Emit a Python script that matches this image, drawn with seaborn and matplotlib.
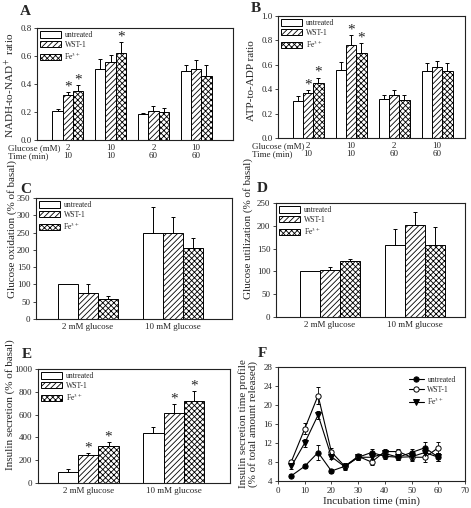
import numpy
import pandas
import matplotlib
matplotlib.use('Agg')
import matplotlib.pyplot as plt
import seaborn
from matplotlib.patches import Patch
from matplotlib.lines import Line2D
from matplotlib.container import BarContainer

seaborn.set_style('ticks')
plt.rcParams['font.family'] = ['Liberation Serif', 'DejaVu Serif']
plt.rcParams['mathtext.fontset'] = 'stix'
plt.rcParams['hatch.linewidth'] = 0.6
plt.rcParams['axes.edgecolor'] = '#222222'
plt.rcParams['axes.linewidth'] = 0.8

treatments = ['untreated', 'WST-1', 'Fe$^{3+}$']
hatches = ['', '//////', 'xxxxxx']

# A - NADH/NAD+
condA = ['2\n10', '10\n10', '2\n60', '10\n60']
nadh_untreated = [0.21, 0.51, 0.185, 0.49]
nadh_wst = [0.32, 0.56, 0.21, 0.51]
nadh_fe = [0.35, 0.62, 0.20, 0.46]
nadh_err_untreated = [0.01, 0.07, 0.008, 0.045]
nadh_err_wst = [0.025, 0.05, 0.03, 0.06]
nadh_err_fe = [0.045, 0.08, 0.03, 0.075]
nadh_star = [[0, 0, 0, 0], [1, 0, 0, 0], [1, 1, 0, 0]]

# B - ATP/ADP
atp_untreated = [0.30, 0.56, 0.32, 0.55]
atp_wst = [0.37, 0.76, 0.35, 0.58]
atp_fe = [0.45, 0.70, 0.31, 0.55]
atp_err_untreated = [0.045, 0.065, 0.035, 0.065]
atp_err_wst = [0.025, 0.085, 0.045, 0.055]
atp_err_fe = [0.045, 0.08, 0.04, 0.065]
atp_star = [[0, 0, 0, 0], [1, 1, 0, 0], [1, 1, 0, 0]]

condGlc = ['2 mM glucose', '10 mM glucose']

# C - glucose oxidation
oxi_untreated = [100, 250]
oxi_wst = [75, 250]
oxi_fe = [57, 205]
oxi_err_untreated = [0, 75]
oxi_err_wst = [25, 45]
oxi_err_fe = [10, 30]

# D - glucose utilization
uti_untreated = [100, 158]
uti_wst = [102, 202]
uti_fe = [123, 157]
uti_err_untreated = [0, 35]
uti_err_wst = [7, 28]
uti_err_fe = [5, 40]

# E - insulin secretion
ins_untreated = [100, 440]
ins_wst = [245, 615]
ins_fe = [325, 720]
ins_err_untreated = [20, 55]
ins_err_wst = [20, 80]
ins_err_fe = [35, 85]
ins_star = [[0, 0], [1, 1], [1, 1]]

# F - time profile
tempo = [5, 10, 15, 20, 25, 30, 35, 40, 45, 50, 55, 60]
perfil_untreated = [5.1, 7.1, 10.0, 6.1, 7.1, 9.0, 10.0, 9.2, 9.0, 10.0, 11.0, 9.0]
perfil_wst = [8.1, 15.0, 22.0, 10.1, 7.1, 9.2, 8.0, 10.2, 10.2, 9.0, 9.0, 11.0]
perfil_fe = [7.1, 12.0, 17.9, 9.1, 7.0, 9.0, 9.0, 9.8, 9.0, 9.1, 10.0, 9.0]
perfil_err_untreated = [0.3, 0.4, 1.5, 0.5, 0.6, 0.5, 0.8, 0.6, 0.6, 0.8, 1.2, 0.8]
perfil_err_wst = [0.3, 1.2, 1.7, 0.8, 0.6, 0.5, 0.6, 0.6, 0.5, 0.7, 1.0, 1.2]
perfil_err_fe = [0.5, 0.8, 0.8, 0.5, 0.6, 0.5, 0.8, 0.6, 0.5, 0.6, 0.8, 0.8]

W, H = 471, 508
fig = plt.figure(figsize=(W / 100, H / 100), dpi=100)


def eixo(left, right, top, bottom):
    return fig.add_axes([left / W, 1 - bottom / H, (right - left) / W, (bottom - top) / H])


def painelBarras(ax, categorias, medias, erros, estrelas, largura, xlim, ylim, yticks, ylabel, labelxy):
    linhas = []
    for t, m in zip(treatments, medias):
        for c, v in zip(categorias, m):
            linhas.append({'cond': c, 'trat': t, 'valor': v})
    df = pandas.DataFrame(linhas)
    seaborn.barplot(data=df, x='cond', y='valor', hue='trat', order=categorias, hue_order=treatments,
                    palette=['white'] * 3, saturation=1, edgecolor='black', linewidth=0.7,
                    width=largura, errorbar=None, legend=False, ax=ax)
    barras = [c for c in ax.containers if isinstance(c, BarContainer)]
    for i, container in enumerate(barras):
        for j, bar in enumerate(container):
            bar.set_hatch(hatches[i])
            x = bar.get_x() + bar.get_width() / 2
            top = bar.get_height()
            e = erros[i][j]
            if e > 0:
                ax.errorbar(x, top, yerr=[[0], [e]], color='black', lw=0.7, capsize=1.6, capthick=0.7)
            if estrelas is not None and estrelas[i][j]:
                ax.annotate('*', xy=(x, top + e), xytext=(0, -1), textcoords='offset points',
                            ha='center', va='bottom', fontsize=11)
    ax.set_xlim(*xlim)
    ax.set_ylim(*ylim)
    ax.set_yticks(yticks)
    ax.set_xlabel('')
    ax.set_ylabel(ylabel, fontsize=8)
    ax.yaxis.set_label_coords(*labelxy)
    ax.tick_params(axis='y', labelsize=6.5, length=2.5, width=0.6, pad=1.5)
    ax.tick_params(axis='x', labelsize=6.5, length=0, pad=3)
    handles = [Patch(facecolor='white', edgecolor='black', hatch=h, linewidth=0.7) for h in hatches]
    ax.legend(handles, treatments, loc='upper left', frameon=False, fontsize=5.5,
              handlelength=2.7, handleheight=0.95, labelspacing=0.2, handletextpad=0.5,
              borderaxespad=0.3, borderpad=0.1)


axA = eixo(37, 233, 28, 140)
painelBarras(axA, condA, [nadh_untreated, nadh_wst, nadh_fe],
             [nadh_err_untreated, nadh_err_wst, nadh_err_fe], nadh_star, 0.72,
             (-0.72, 3.86), (0, 0.8), numpy.arange(0, 0.81, 0.2), 'NADH-to-NAD$^+$ ratio',
             (-0.10, 0.49))
axA.set_yticklabels(['0.0', '0.2', '0.4', '0.6', '0.8'])
for lbl in axA.get_xticklabels():
    lbl.set_linespacing(1.05)
axA.text(-0.148, -0.035, 'Glucose (mM)\nTime (min)', transform=axA.transAxes, ha='left', va='top',
         fontsize=6.5, linespacing=1.05)

axB = eixo(278, 465, 16, 138)
painelBarras(axB, condA, [atp_untreated, atp_wst, atp_fe],
             [atp_err_untreated, atp_err_wst, atp_err_fe], atp_star, 0.72,
             (-0.70, 3.65), (0, 1.0), numpy.arange(0, 1.01, 0.2), 'ATP-to-ADP ratio',
             (-0.12, 0.47))
axB.set_yticklabels(['0.0', '0.2', '0.4', '0.6', '0.8', '1.0'])
for lbl in axB.get_xticklabels():
    lbl.set_linespacing(1.05)
axB.text(-0.139, -0.035, 'Glucose (mM)\nTime (min)', transform=axB.transAxes, ha='left', va='top',
         fontsize=6.5, linespacing=1.05)

axC = eixo(36, 232, 198, 319)
painelBarras(axC, condGlc, [oxi_untreated, oxi_wst, oxi_fe],
             [oxi_err_untreated, oxi_err_wst, oxi_err_fe], None, 0.71,
             (-0.61, 1.69), (0, 350), numpy.arange(0, 351, 50), 'Glucose oxidation (% of basal)',
             (-0.097, 0.74))

axD = eixo(276, 465, 203, 317)
painelBarras(axD, condGlc, [uti_untreated, uti_wst, uti_fe],
             [uti_err_untreated, uti_err_wst, uti_err_fe], None, 0.71,
             (-0.635, 1.59), (0, 250), numpy.arange(0, 251, 50), 'Glucose utilization (% of basal)',
             (-0.122, 0.78))

axE = eixo(38, 230, 369, 483)
painelBarras(axE, condGlc, [ins_untreated, ins_wst, ins_fe],
             [ins_err_untreated, ins_err_wst, ins_err_fe], ins_star, 0.71,
             (-0.59, 1.66), (0, 1000), numpy.arange(0, 1001, 200), 'Insulin secretion (% of basal)',
             (-0.12, 0.69))

# F
axF = eixo(278, 465, 367, 481)
series = [(perfil_untreated, perfil_err_untreated, 'o', 'black'),
          (perfil_wst, perfil_err_wst, 'o', 'white'),
          (perfil_fe, perfil_err_fe, 'v', 'black')]
handlesF = []
for (vals, errs, mk, fc), nome in zip(series, treatments):
    axF.errorbar(tempo, vals, yerr=errs, color='black', lw=0.8, marker=mk, markersize=3.8,
                 markerfacecolor=fc, markeredgecolor='black', markeredgewidth=0.7,
                 capsize=1.6, elinewidth=0.6, capthick=0.6)
    handlesF.append(Line2D([], [], color='black', lw=0.8, marker=mk, markersize=3.8,
                           markerfacecolor=fc, markeredgecolor='black', markeredgewidth=0.7))
axF.set_xlim(0, 70)
axF.set_ylim(4, 28)
axF.set_xticks(numpy.arange(0, 71, 10))
axF.set_yticks(numpy.arange(4, 29, 4))
axF.tick_params(labelsize=6.5, length=2.5, width=0.6, pad=1.5)
axF.set_xlabel('Incubation time (min)', fontsize=8, labelpad=1)
axF.set_ylabel('Insulin secretion time profile\n(% of total amount released)', fontsize=8,
               linespacing=1.0)
axF.yaxis.set_label_coords(-0.107, 0.5)
axF.legend(handlesF, treatments, loc='upper right', frameon=False, fontsize=5.5,
           handlelength=1.9, labelspacing=0.22, handletextpad=0.5, borderaxespad=0.8)

for letra, x, y in [('A', 20, 15), ('B', 251, 12), ('C', 20, 193), ('D', 257, 192),
                    ('E', 22, 358), ('F', 258, 357)]:
    fig.text(x / W, 1 - y / H, letra, fontsize=11, fontweight='bold', ha='left', va='baseline')

fig.savefig('out.png', dpi=100)
